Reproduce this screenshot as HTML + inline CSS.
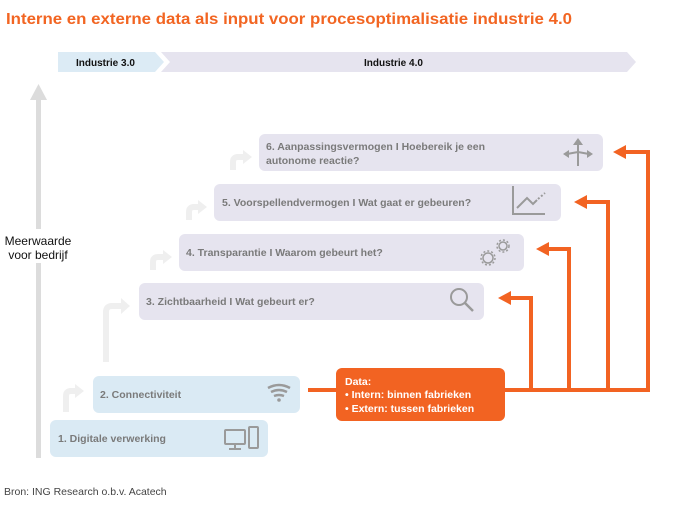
<!DOCTYPE html>
<html><head><meta charset="utf-8"><style>
html,body{margin:0;padding:0;background:#fff;}
body{width:685px;height:509px;overflow:hidden;}
svg text{font-family:"Liberation Sans",sans-serif;}
</style></head><body>
<svg width="685" height="509" viewBox="0 0 685 509" xmlns="http://www.w3.org/2000/svg">
<text x="6" y="24" font-size="15.5" font-weight="bold" fill="#f26522" textLength="566" lengthAdjust="spacingAndGlyphs">Interne en externe data als input voor procesoptimalisatie industrie 4.0</text>
<polygon points="58,52 155,52 164,62 155,72 58,72" fill="#dcebf5"/>
<polygon points="161,52 627,52 636,62 627,72 161,72 170,62" fill="#e6e4ef"/>
<text x="76" y="66" font-size="10" font-weight="bold" fill="#111">Industrie 3.0</text>
<text x="364" y="66" font-size="10" font-weight="bold" fill="#111">Industrie 4.0</text>
<rect x="36" y="99" width="5" height="130" fill="#dcdcdc"/>
<rect x="36" y="263" width="5" height="195" fill="#dcdcdc"/>
<polygon points="38.5,84 30,100 47,100" fill="#dcdcdc"/>
<text x="38" y="245" font-size="12" fill="#111" text-anchor="middle">Meerwaarde</text>
<text x="38" y="259" font-size="12" fill="#111" text-anchor="middle">voor bedrijf</text>
<g fill="none" stroke="#efefef" stroke-width="6">
<path d="M66,412 V396 Q66,391 71,391 H76"/>
<path d="M106,362 V312 Q106,306 112,306 H122"/>
<path d="M153,270 V262 Q153,257 158,257 H164"/>
<path d="M189,220 V212 Q189,207 194,207 H199"/>
<path d="M233,170 V162 Q233,157 238,157 H244"/>
</g>
<g fill="#efefef">
<polygon points="75,384 84,391 75,398"/>
<polygon points="121,298 130,306 121,314"/>
<polygon points="163,250 172,257 163,264"/>
<polygon points="198,200 207,207 198,214"/>
<polygon points="243,150 252,157 243,164"/>
</g>
<rect x="50" y="420" width="218" height="37" rx="6" fill="#daeaf4"/>
<rect x="93" y="376" width="207" height="37" rx="6" fill="#daeaf4"/>
<rect x="139" y="283" width="345" height="37" rx="6" fill="#e6e4ef"/>
<rect x="179" y="234" width="345" height="37" rx="6" fill="#e6e4ef"/>
<rect x="214" y="184" width="347" height="37" rx="6" fill="#e6e4ef"/>
<rect x="259" y="134" width="344" height="37" rx="6" fill="#e6e4ef"/>
<g font-size="10.5" font-weight="bold" fill="#7a7a7a">
<text x="58" y="442">1. Digitale verwerking</text>
<text x="100" y="398">2. Connectiviteit</text>
<text x="146" y="305">3. Zichtbaarheid I Wat gebeurt er?</text>
<text x="186" y="256">4. Transparantie  I Waarom gebeurt het?</text>
<text x="222" y="206">5. Voorspellendvermogen I Wat gaat er gebeuren?</text>
<text x="266" y="150">6. Aanpassingsvermogen I Hoebereik je een</text>
<text x="266" y="164">autonome reactie?</text>
</g>
<g fill="none" stroke="#9a9a9a" stroke-width="2">
<rect x="225" y="430" width="20" height="14" rx="1"/>
<path d="M235,444 V449 M229,449 H241"/>
<rect x="249" y="427" width="9" height="21" rx="1"/>
<path d="M268,388 Q279,382 290,388 M271,392 Q279,388 287,392 M274,396 Q279,394 284,396" stroke-width="2.5"/>
<circle cx="459" cy="297" r="8"/>
<path d="M465,303 L473,311" stroke-width="2.5"/>
<circle cx="488" cy="258" r="5" stroke-width="1.5"/><circle cx="488" cy="258" r="7" stroke-width="1.5" stroke-dasharray="2,2"/>
<circle cx="503" cy="246" r="4" stroke-width="1.5"/><circle cx="503" cy="246" r="6" stroke-width="1.5" stroke-dasharray="2,2"/>
<path d="M513,186 V214 H545"/>
<path d="M517,208 L527,198 L533,204 L537,200"/>
<path d="M538,199 L545,193" stroke-dasharray="2,2"/>
<path d="M578,166 V142 M578,152 L567,154 M578,152 L589,154"/>
</g>
<circle cx="279" cy="400" r="1.8" fill="#9a9a9a"/>
<g fill="#9a9a9a">
<polygon points="578,138 573,145 583,145"/>
<polygon points="563,154 569,150 569,158"/>
<polygon points="593,154 587,150 587,158"/>
</g>
<g fill="none" stroke="#f26322" stroke-width="4">
<path d="M308,390 H336"/>
<path d="M505,390 H648 V152 H620"/>
<path d="M608,390 V202 H581"/>
<path d="M569,390 V249 H543"/>
<path d="M531,390 V298 H505"/>
</g>
<g fill="#f26322">
<polygon points="613,152 626,145 626,159"/>
<polygon points="574,202 587,195 587,209"/>
<polygon points="536,249 549,242 549,256"/>
<polygon points="498,298 511,291 511,305"/>
</g>
<rect x="336" y="368" width="169" height="53" rx="6" fill="#f26322"/>
<g font-size="10.5" font-weight="bold" fill="#fff">
<text x="345" y="385">Data:</text>
<text x="345" y="398">•  Intern: binnen fabrieken</text>
<text x="345" y="412">•  Extern: tussen fabrieken</text>
</g>
<text x="4" y="495" font-size="10.5" fill="#444">Bron: ING Research o.b.v. Acatech</text>
</svg>
</body></html>
